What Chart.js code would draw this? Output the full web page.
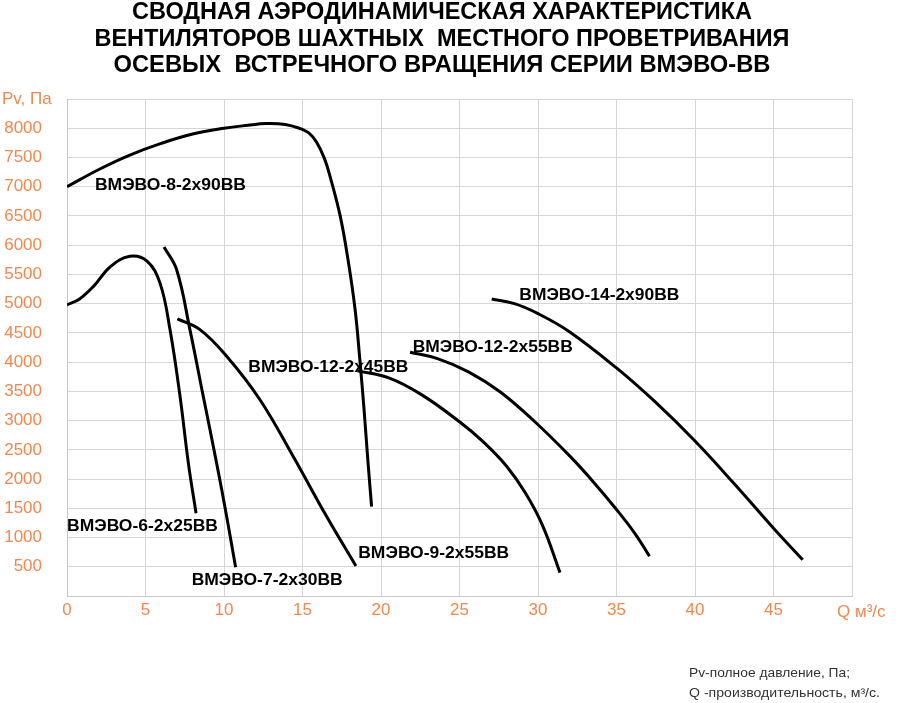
<!DOCTYPE html>
<html>
<head>
<meta charset="utf-8">
<script src="https://cdn.jsdelivr.net/npm/chart.js@4.4.1/dist/chart.umd.min.js"></script>
<style>
html,body{margin:0;padding:0;background:#fff;}
canvas{display:block;}
</style>
</head>
<body>
<canvas id="c" width="910" height="703"></canvas>
<script>
// ---- data (Q, m3/s ; Pv, Pa) ----
const q_8_90  = [0, 2, 4, 6, 8, 10, 11.5, 12.7, 13.9, 14.8, 15.4, 15.9, 16.4, 16.75, 17.4, 17.9, 18.35, 18.65, 18.92, 19.16, 19.4];
const p_8_90  = [7000, 7290, 7540, 7740, 7900, 8000, 8050, 8080, 8065, 8000, 7920, 7760, 7480, 7180, 6500, 5750, 4900, 4050, 3190, 2330, 1530];

const q_6_25  = [0, 0.8, 1.7, 2.75, 4.0, 5.08, 5.92, 6.56, 7.2, 7.73, 8.22];
const p_6_25  = [4980, 5080, 5300, 5630, 5810, 5730, 5355, 4556, 3414, 2273, 1416];

const q_7_30  = [6.18, 6.98, 7.83, 8.68, 9.53, 10.17, 10.74];
const p_7_30  = [5970, 5584, 4556, 3414, 2273, 1358, 492];

const q_9_55  = [7.03, 8.47, 10.17, 12.29, 14.41, 16.54, 18.4];
const p_9_55  = [4740, 4556, 4100, 3357, 2386, 1358, 514];

const q_12_45 = [18.5, 20.5, 22.6, 25.0, 26.5, 28.0, 29.2, 30.3, 31.4];
const p_12_45 = [3850, 3730, 3440, 2980, 2640, 2220, 1760, 1200, 400];

const q_12_55 = [21.85, 23.6, 25.6, 27.6, 29.8, 32.0, 33.5, 35.0, 36.2, 37.1];
const p_12_55 = [4170, 4060, 3830, 3490, 2980, 2400, 1960, 1480, 1060, 680];

const q_14_90 = [27.05, 28.5, 30.0, 32.0, 35.0, 37.5, 40.0, 42.5, 45.0, 46.86];
const p_14_90 = [5080, 5000, 4830, 4520, 3900, 3310, 2650, 1920, 1160, 620];

const seriesNames = ["ВМЭВО-8-2х90ВВ","ВМЭВО-6-2х25ВВ","ВМЭВО-7-2х30ВВ","ВМЭВО-9-2х55ВВ","ВМЭВО-12-2х45ВВ","ВМЭВО-12-2х55ВВ","ВМЭВО-14-2х90ВВ"];
const seriesQ = [q_8_90, q_6_25, q_7_30, q_9_55, q_12_45, q_12_55, q_14_90];
const seriesP = [p_8_90, p_6_25, p_7_30, p_9_55, p_12_45, p_12_55, p_14_90];

// label anchors (data coords: left edge Q, centre Pv)
const labelQ = [1.78, 0.0, 7.94, 18.55, 11.55, 22.02, 28.81];
const labelP = [7020, 1180, 270, 730, 3900, 4240, 5140];

const xTicksMax = 50, xStep = 5;
const yTicksMax = 8500, yStep = 500;

const titleLines = [
  "СВОДНАЯ АЭРОДИНАМИЧЕСКАЯ ХАРАКТЕРИСТИКА",
  "ВЕНТИЛЯТОРОВ ШАХТНЫХ  МЕСТНОГО ПРОВЕТРИВАНИЯ",
  "ОСЕВЫХ  ВСТРЕЧНОГО ВРАЩЕНИЯ СЕРИИ ВМЭВО-ВВ"
];
const yAxisTitle = "Pv, Па";
const xAxisTitle = "Q м³/с";
const noteLines = ["Pv-полное давление, Па;", "Q -производительность, м³/с."];

// ---- chart ----
const ORANGE = '#F5864C';
const FONT = "'Liberation Sans', Arial, sans-serif";

const datasets = seriesQ.map((qs, i) => ({
  label: seriesNames[i],
  data: qs.map((q, j) => ({x: q, y: seriesP[i][j]})),
  showLine: true,
  borderColor: '#000',
  borderWidth: 3,
  pointRadius: 0,
  fill: false,
  tension: 0.4,
  borderCapStyle: 'butt'
}));

function stretchText(ctx, txt, x, y, targetW, align) {
  const w = ctx.measureText(txt).width;
  const s = targetW ? targetW / w : 1;
  ctx.save();
  let x0 = x;
  if (align === 'center') x0 = x - (w * s) / 2;
  ctx.translate(x0, y);
  ctx.scale(s, 1);
  ctx.textAlign = 'left';
  ctx.fillText(txt, 0, 0);
  ctx.restore();
}

const overlay = {
  id: 'overlay',
  afterDraw(chart) {
    const ctx = chart.ctx;
    const xs = chart.scales.x, ys = chart.scales.y;
    ctx.save();
    // title
    ctx.fillStyle = '#000';
    ctx.textBaseline = 'alphabetic';
    ctx.font = "bold 23px " + FONT;
    const tW = [620, 695, 657];
    const tY = [19, 45.5, 72];
    const cx = 442;
    titleLines.forEach((t, i) => stretchText(ctx, t, cx, tY[i], tW[i], 'center'));
    // curve labels
    ctx.textBaseline = 'middle';
    ctx.font = "bold 16px " + FONT;
    seriesNames.forEach((n, i) => {
      const px = xs.getPixelForValue(labelQ[i]);
      const py = ys.getPixelForValue(labelP[i]);
      const tw = n.length > 14 ? 160 : 151;
      stretchText(ctx, n, px, py, tw, 'left');
    });
    // axis titles
    ctx.fillStyle = ORANGE;
    ctx.font = "17px " + FONT;
    ctx.textAlign = 'left';
    ctx.fillText(yAxisTitle, 2, ys.getPixelForValue(yTicksMax));
    ctx.fillText(xAxisTitle, xs.getPixelForValue(xTicksMax) - 15, xs.top + 16);
    // note
    ctx.fillStyle = '#333';
    ctx.font = "13px " + FONT;
    stretchText(ctx, noteLines[0], 689, 673, 161, 'left');
    stretchText(ctx, noteLines[1], 689, 693, 191, 'left');
    ctx.restore();
  }
};

new Chart(document.getElementById('c'), {
  type: 'scatter',
  data: { datasets },
  options: {
    responsive: false,
    animation: false,
    devicePixelRatio: 1,
    layout: { padding: { top: 99, right: 58, left: 0, bottom: 0 } },
    plugins: { legend: { display: false }, tooltip: { enabled: false }, title: { display: false } },
    scales: {
      x: {
        type: 'linear', min: 0, max: xTicksMax,
        ticks: {
          stepSize: xStep, color: ORANGE, padding: 4,
          font: { size: 17, family: FONT },
          callback: v => (v === xTicksMax ? '' : v)
        },
        grid: { color: '#d6d6d6', lineWidth: 1, drawTicks: false },
        border: { color: '#c8c8c8' },
        afterFit: s => { s.height = 107; }
      },
      y: {
        type: 'linear', min: 0, max: yTicksMax,
        ticks: {
          stepSize: yStep, color: ORANGE, padding: 25,
          font: { size: 17, family: FONT },
          callback: v => (v === 0 || v === yTicksMax ? '' : v)
        },
        grid: { color: '#d6d6d6', lineWidth: 1, drawTicks: false },
        border: { color: '#c8c8c8' },
        afterFit: s => { s.width = 67; }
      }
    }
  },
  plugins: [overlay]
});
</script>
</body>
</html>
